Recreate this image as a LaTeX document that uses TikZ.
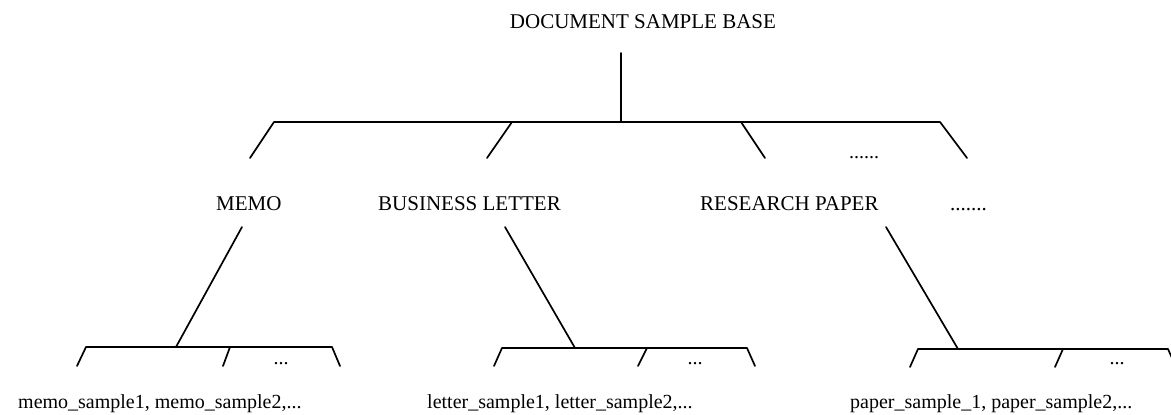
\documentclass[tikz,border=0pt]{standalone}
\usepackage{fontspec}
\setmainfont{Liberation Serif}
\usetikzlibrary{calc}
\begin{document}
\begin{tikzpicture}[x=1pt,y=-1pt,
  ln/.style={line width=1.7pt,line cap=round,line join=round},
  lbl/.style={font=\fontsize{21}{25}\selectfont,inner sep=0pt,anchor=base west},
  leaf/.style={font=\fontsize{20}{24}\selectfont,inner sep=0pt,anchor=base west},
  dots/.style={font=\fontsize{20}{24}\selectfont,inner sep=0pt,anchor=base}]
\useasboundingbox (0,0) rectangle (1171,415);
% root
\node[font=\fontsize{21}{25}\selectfont,inner sep=0pt,anchor=base] (root) at (643,28) {DOCUMENT SAMPLE BASE};
\coordinate (rtop) at (621,53);
\coordinate (rbot) at (621,122);
\coordinate (barL) at (274,122);
\coordinate (barR) at (940,122);
\coordinate (b2) at (512,122);
\coordinate (b3) at (741,122);
\coordinate (s1) at (250,158);
\coordinate (s2) at (487,158);
\coordinate (s3) at (765,158);
\coordinate (s4) at (967,158);
\draw[ln] (rtop) -- (rbot);
\draw[ln] (s1) -- (barL) -- (barR) -- (s4);
\draw[ln] (b2) -- (s2);
\draw[ln] (b3) -- (s3);
\node[dots] (d1) at (864,158) {......};
% second level
\node[lbl] (memo) at (216,210) {MEMO};
\node[lbl] (bl) at (378,210) {BUSINESS LETTER};
\node[lbl] (rp) at (700,210) {RESEARCH PAPER};
\node[lbl] (d2) at (950,210) {.......};
% memo subtree
\coordinate (m0) at (242,227);
\coordinate (mj) at (176,347);
\coordinate (mL) at (86,347);
\coordinate (mM) at (230,347);
\coordinate (mR) at (332,347);
\draw[ln] (m0) -- (mj);
\draw[ln] ($(mL)+(-9,19)$) -- (mL) -- (mR) -- ($(mR)+(8,19)$);
\draw[ln] (mM) -- ++(-7,19);
\node[dots] (md) at (281,364) {...};
\node[leaf] (ms) at (18,408) {memo\_sample1, memo\_sample2,...};
% letter subtree
\coordinate (l0) at (505,227);
\coordinate (lj) at (575,348);
\coordinate (lL) at (502,348);
\coordinate (lM) at (647,348);
\coordinate (lR) at (747,348);
\draw[ln] (l0) -- (lj);
\draw[ln] ($(lL)+(-8,18)$) -- (lL) -- (lR) -- ($(lR)+(8,18)$);
\draw[ln] (lM) -- ++(-9,18);
\node[dots] (ld) at (695,364) {...};
\node[leaf] (ls) at (427,408) {letter\_sample1, letter\_sample2,...};
% paper subtree
\coordinate (p0) at (886,227);
\coordinate (pj) at (958,349);
\coordinate (pL) at (918,349);
\coordinate (pM) at (1063,349);
\coordinate (pR) at (1168,349);
\draw[ln] (p0) -- (pj);
\draw[ln] ($(pL)+(-8,18)$) -- (pL) -- (pR) -- ($(pR)+(8,18)$);
\draw[ln] (pM) -- ++(-8,18);
\node[dots] (pd) at (1117,364) {...};
\node[leaf] (ps) at (850,408) {paper\_sample\_1, paper\_sample2,...};
\end{tikzpicture}
\end{document}
